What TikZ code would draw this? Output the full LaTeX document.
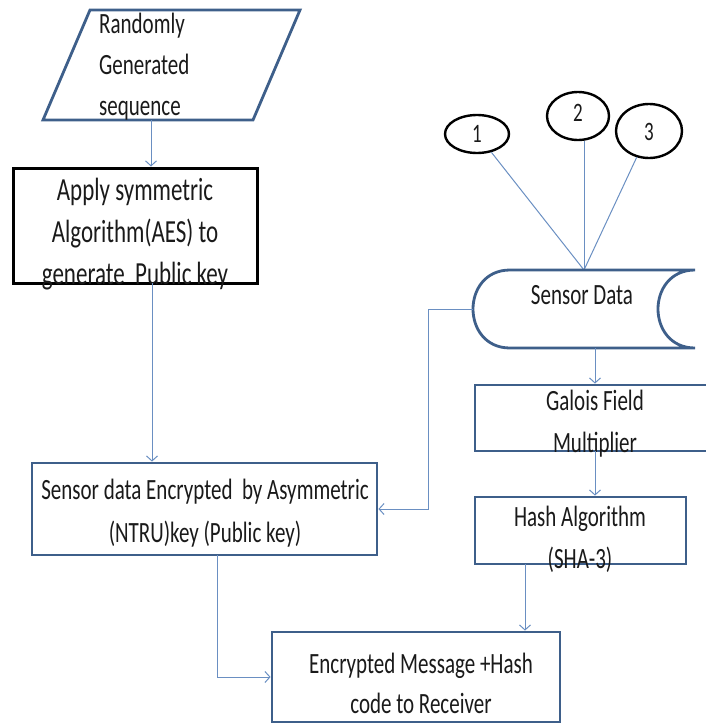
\documentclass[tikz,border=0pt]{standalone}
\usepackage{fontspec}
\setmainfont{Carlito}
\usetikzlibrary{arrows.meta,shapes.geometric}
\definecolor{boxblue}{HTML}{3E5F8A}
\definecolor{linkblue}{HTML}{6A8FC2}
\definecolor{txtcol}{HTML}{1A1A1A}
\newcommand{\stl}[1]{\scalebox{1}[1.4]{#1}}
\begin{document}
\begin{tikzpicture}[x=1pt,y=-1pt,
  boxnode/.style={draw=boxblue, line width=2.8pt, fill=white, inner sep=0pt, rectangle},
  blackbox/.style={draw=black, line width=3pt, fill=white, inner sep=0pt, rectangle},
  ovalnode/.style={draw=black, line width=2.4pt, ellipse, inner sep=0pt, fill=white},
  txtnode/.style={text=txtcol, inner sep=0pt, align=center, font=\fontsize{21}{42}\selectfont},
  conn/.style={draw=linkblue, line width=1pt},
  arr/.style={draw=linkblue, line width=1pt, -{Straight Barb[length=5pt,width=11pt]}}
]
\useasboundingbox (0,0) rectangle (706,723);

% parallelogram (input)
\draw[draw=boxblue, line width=2.8pt, line join=miter] (90,10) -- (300,10) -- (253,120) -- (43,120) -- cycle;
\coordinate (pbot) at (151,120);
\node[txtnode, align=left, anchor=west, font=\fontsize{21}{41}\selectfont] (randt) at (99,67)
  {\stl{Randomly}\\\stl{Generated}\\\stl{sequence}};

% AES box
\node[blackbox, minimum width=244pt, minimum height=115pt] (aes) at (135,225.5) {};
\node[txtnode, font=\fontsize{23}{42}\selectfont] (aest) at (135,234)
  {\stl{Apply symmetric}\\\stl{Algorithm(AES) to}\\\stl{generate\ \ Public key}};

% Encrypted box
\node[boxnode, minimum width=345pt, minimum height=92pt] (enc) at (204.5,509) {};
\node[txtnode, font=\fontsize{21}{43}\selectfont] (enct) at (205,513)
  {\stl{Sensor data Encrypted\ \ by Asymmetric}\\\stl{(NTRU)key (Public key)}};

% circles
\node[ovalnode, minimum width=64pt, minimum height=38pt] (c1) at (477,134) {};
\node[ovalnode, minimum width=62pt, minimum height=48pt] (c2) at (578,116) {};
\node[ovalnode, minimum width=66pt, minimum height=54pt] (c3) at (649,131) {};
\node[txtnode, font=\fontsize{19}{19}\selectfont] (c1t) at (477,134) {\stl{1}};
\node[txtnode, font=\fontsize{19}{19}\selectfont] (c2t) at (578,113) {\stl{2}};
\node[txtnode, font=\fontsize{19}{19}\selectfont] (c3t) at (649,132) {\stl{3}};

% sensor data stored-data shape
\coordinate (sdtop) at (584,270);
\coordinate (sdleft) at (473,309);
\coordinate (sdbot) at (595,348);
\draw[conn] (c1) -- (sdtop);
\draw[conn] (sdtop) -- (sdtop |- c2.south);
\draw[conn] (c3) -- (sdtop);
\draw[draw=boxblue, line width=2.8pt, fill=white]
  (695,348) -- (510,348) .. controls (485,348) and (473,328) .. (473,309)
  .. controls (473,290) and (485,270) .. (510,270) -- (695,270)
  .. controls (670,270) and (658,290) .. (658,309)
  .. controls (658,328) and (670,348) .. (695,348);
\node[txtnode] (sdt) at (582,295) {\stl{Sensor Data}};

% Galois box
\node[boxnode, minimum width=245pt, minimum height=66pt] (gal) at (597.5,418) {};
\node[txtnode] (galt) at (595,424) {\stl{Galois Field}\\\stl{Multiplier}};

% Hash box
\node[boxnode, minimum width=211pt, minimum height=67pt] (hash) at (580.5,530.5) {};
\node[txtnode] (hasht) at (580,539) {\stl{Hash Algorithm}\\\stl{(SHA-3)}};

% final box
\node[boxnode, minimum width=288pt, minimum height=90pt] (fin) at (416,677) {};
\node[txtnode, font=\fontsize{21}{40}\selectfont] (fint) at (421,683) {\stl{Encrypted Message +Hash}\\\stl{code to Receiver}};

% connectors
\draw[arr] (pbot) -- (pbot |- aes.north);
\coordinate (aesout) at (152,283);
\draw[arr] (aesout) -- (aesout |- enc.north);
\coordinate (bend) at (428,309);
\draw[arr] (sdleft) -- (bend) |- (enc.east);
\draw[arr] (sdbot) -- (sdbot |- gal.north);
\coordinate (galout) at (595,451);
\draw[arr] (galout) -- (galout |- hash.north);
\coordinate (hashout) at (525,564);
\draw[arr] (hashout) -- (hashout |- fin.north);
\coordinate (encout) at (217,555);
\draw[arr] (encout) |- (fin.west);
\end{tikzpicture}
\end{document}
